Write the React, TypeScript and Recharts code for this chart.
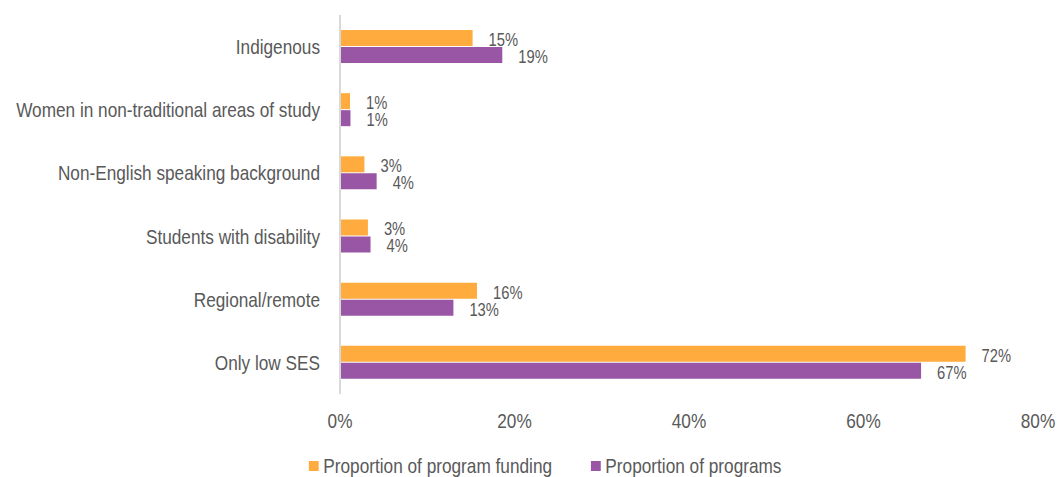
import { BarChart, Bar, XAxis, YAxis, Legend, LabelList } from 'recharts';

const categories = [
  'Indigenous',
  'Women in non-traditional areas of study',
  'Non-English speaking background',
  'Students with disability',
  'Regional/remote',
  'Only low SES',
];
const fundingShare = [15.2, 1.15, 2.8, 3.2, 15.7, 71.7];
const programShare = [18.6, 1.2, 4.2, 3.5, 13.0, 66.6];
const xTicks = [0, 20, 40, 60, 80];

const SERIES = [
  { key: 'funding', name: 'Proportion of program funding', color: '#FFAB3D' },
  { key: 'programs', name: 'Proportion of programs', color: '#9956A5' },
];

// no Arial Narrow here, so squeeze Liberation Sans horizontally
const FONT = '"Liberation Sans", Arial, sans-serif';
const NARROW = 0.82;
const TEXT = '#595959';

const data = categories.map((name, i) => ({
  name,
  funding: fundingShare[i],
  programs: programShare[i],
}));

const pct = (v: any) => `${Math.round(Number(v))}%`;

function NarrowText({ x, y, anchor, dy, size, children }: any) {
  return (
    <text
      transform={`translate(${x},${y}) scale(${NARROW},1)`}
      x={0}
      y={0}
      dy={dy}
      textAnchor={anchor}
      fontFamily={FONT}
      fontSize={size}
      fill={TEXT}
    >
      {children}
    </text>
  );
}

function YTick({ x, y, payload }: any) {
  return (
    <NarrowText x={x} y={y} anchor="end" dy="0.36em" size={21}>
      {payload.value}
    </NarrowText>
  );
}

function XTick({ x, y, payload }: any) {
  return (
    <NarrowText x={x} y={y} anchor="middle" dy="0.71em" size={21}>
      {`${payload.value}%`}
    </NarrowText>
  );
}

function ValueLabel({ x, y, width, height, value }: any) {
  return (
    <NarrowText x={Number(x) + Number(width) + 16} y={Number(y) + Number(height) / 2 + 1.5} anchor="start" dy="0.36em" size={18}>
      {pct(value)}
    </NarrowText>
  );
}

function LegendBox() {
  return (
    <div
      style={{
        display: 'flex',
        justifyContent: 'center',
        alignItems: 'center',
        height: 22,
        paddingLeft: 33,
        fontFamily: FONT,
        fontSize: 21,
        color: TEXT,
        gap: 47,
        transform: `scaleX(${NARROW})`,
        transformOrigin: '545px 50%',
        whiteSpace: 'nowrap',
      }}
    >
      {SERIES.map((s) => (
        <span key={s.key} style={{ display: 'flex', alignItems: 'center' }}>
          <span style={{ width: 12, height: 10, background: s.color, marginRight: 6, display: 'inline-block' }} />
          {s.name}
        </span>
      ))}
    </div>
  );
}

export default function App() {
  return (
    <div style={{ position: 'absolute', left: 0, top: 0, background: '#fff' }}>
      <BarChart
        width={1057}
        height={477}
        data={data}
        layout="vertical"
        margin={{ top: 15, right: 19, bottom: 0, left: 0 }}
        barGap={1}
        barSize={16}
      >
        <XAxis
          type="number"
          domain={[0, 80]}
          ticks={xTicks}
          axisLine={false}
          tickLine={false}
          tickSize={0}
          tickMargin={19}
          height={61}
          tick={<XTick />}
        />
        <YAxis
          type="category"
          dataKey="name"
          width={340}
          axisLine={{ stroke: '#D9D9D9', strokeWidth: 2 }}
          tickLine={false}
          tickSize={0}
          tickMargin={20}
          interval={0}
          tick={<YTick />}
        />
        <Legend
          verticalAlign="bottom"
          wrapperStyle={{ left: 0, width: 1057 }}
          content={() => <LegendBox />}
        />
        {SERIES.map((s) => (
          <Bar key={s.key} dataKey={s.key} name={s.name} fill={s.color} isAnimationActive={false}>
            <LabelList dataKey={s.key} content={<ValueLabel />} />
          </Bar>
        ))}
      </BarChart>
    </div>
  );
}
